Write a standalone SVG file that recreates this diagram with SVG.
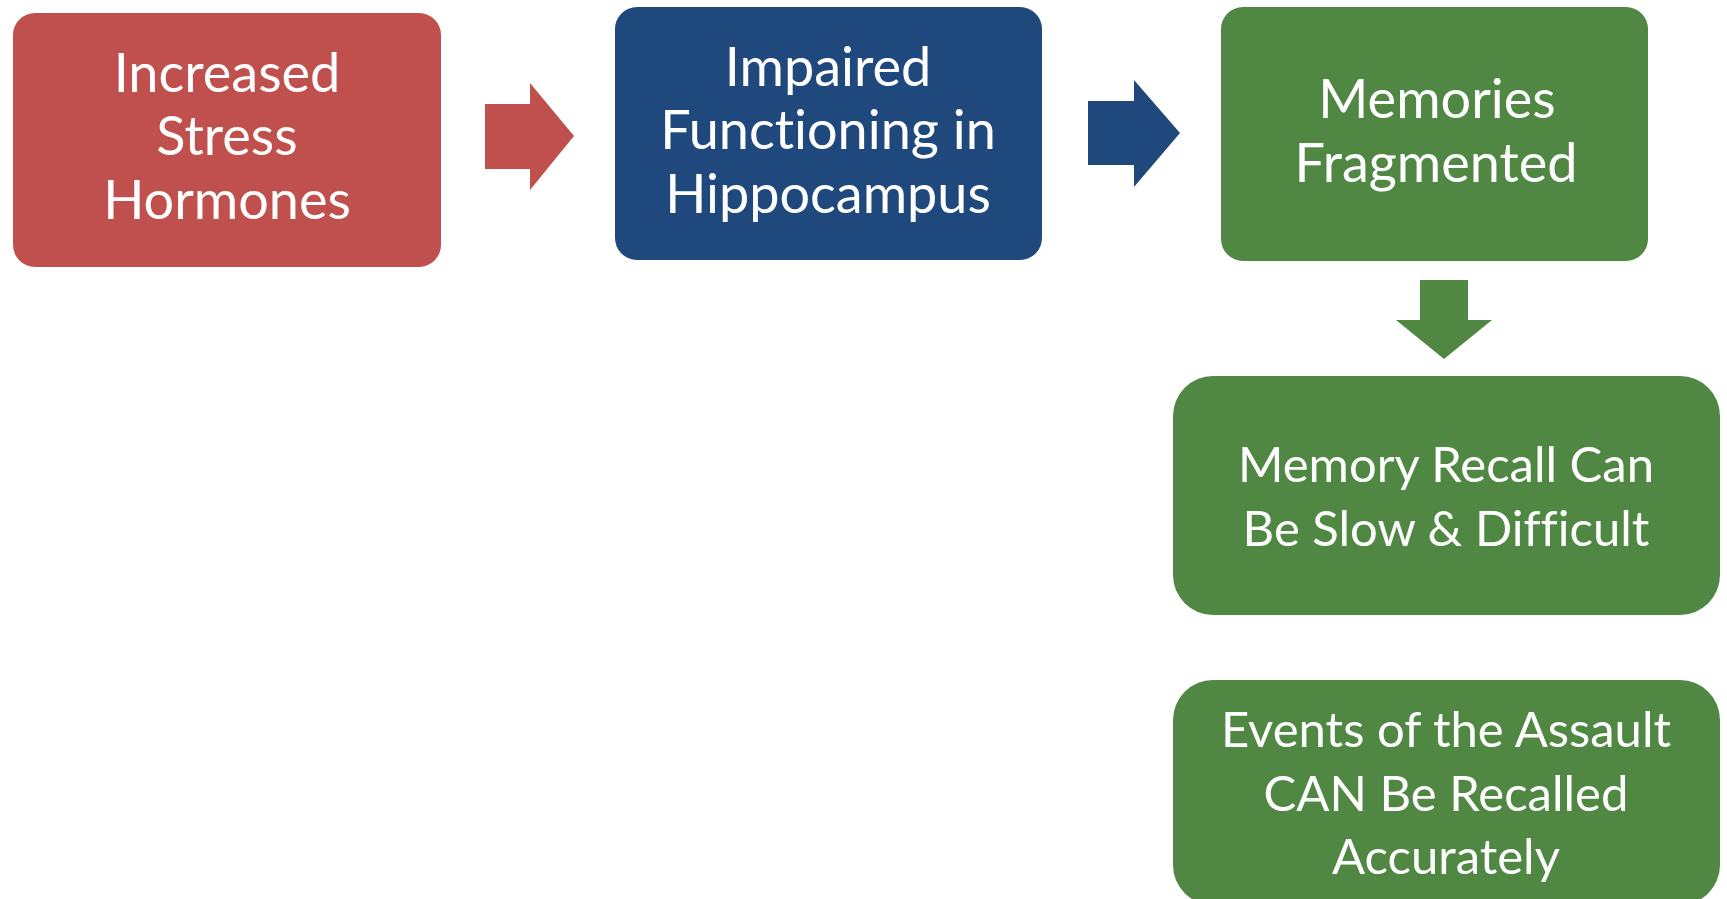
<svg xmlns="http://www.w3.org/2000/svg" width="1727" height="899" viewBox="0 0 1727 899">
<style>
.lbl{font-family:Lato,"Open Sans","Liberation Sans",sans-serif;font-size:54px;fill:#ffffff;text-anchor:middle;font-variant-ligatures:none;font-feature-settings:"liga" 0}
.sm{font-size:49px}
.red{fill:#C0504D}
.blue{fill:#1F497D}
.green{fill:#508743}
</style>
<rect width="1727" height="899" fill="#ffffff"/>
<g id="connectors">
<polygon class="red" points="485,104 530,104 530,83 574,136 530,190 530,169 485,169"/>
<polygon class="blue" points="1088,101 1134,101 1134,80 1180,133 1134,187 1134,165 1088,165"/>
<polygon class="green" points="1420,280 1468,280 1468,320 1492,320 1444,359 1396,320 1420,320"/>
</g>
<g id="node-stress">
<rect class="red" x="13" y="13" width="428" height="254" rx="22"/>
<text class="lbl"><tspan x="227" y="92">Increased</tspan><tspan x="227" y="155">Stress</tspan><tspan x="227" y="219">Hormones</tspan></text>
</g>
<g id="node-hippocampus">
<rect class="blue" x="615" y="7" width="427" height="253" rx="22"/>
<text class="lbl"><tspan x="828" y="86">Impaired</tspan><tspan x="828" y="149">Functioning in</tspan><tspan x="828" y="213">Hippocampus</tspan></text>
</g>
<g id="node-fragmented">
<rect class="green" x="1221" y="7" width="427" height="254" rx="22"/>
<text class="lbl"><tspan x="1437" y="118">Memories</tspan><tspan x="1436" y="182">Fragmented</tspan></text>
</g>
<g id="node-recall">
<rect class="green" x="1173" y="376" width="547" height="239" rx="40"/>
<text class="lbl sm"><tspan x="1446" y="482">Memory Recall Can</tspan><tspan x="1446" y="546">Be Slow &amp; Difficult</tspan></text>
</g>
<g id="node-accurate">
<rect class="green" x="1173" y="680" width="547" height="225" rx="40"/>
<text class="lbl sm"><tspan x="1446" y="747">Events of the Assault</tspan><tspan x="1446" y="811">CAN Be Recalled</tspan><tspan x="1446" y="874">Accurately</tspan></text>
</g>
</svg>
